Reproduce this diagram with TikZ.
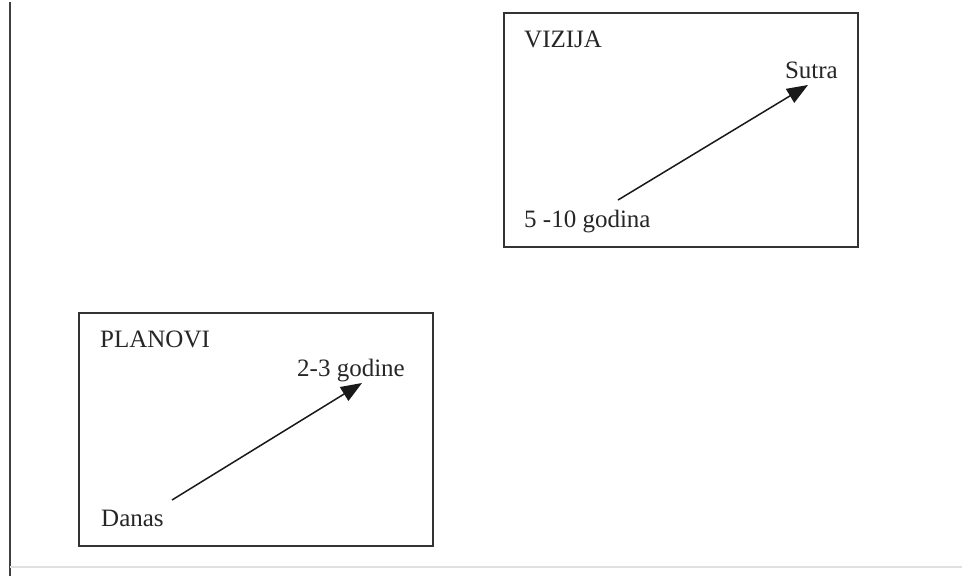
\documentclass[tikz,border=0pt]{standalone}
\usepackage{fontspec}
\setmainfont{Liberation Serif}
\usetikzlibrary{arrows.meta}
\begin{document}
\begin{tikzpicture}[x=1pt,y=-1pt,
  frame/.style={draw=black!80,line width=1.8pt},
  lbl/.style={inner sep=0pt,font=\fontsize{25}{28}\selectfont,text=black!85},
  arr/.style={draw=black!90,line width=1.5pt,-{Triangle[length=21pt,width=16pt]}}]
\useasboundingbox (0,0) rectangle (962,576);
\fill[white] (0,0) rectangle (962,576);
% outer lines
\coordinate (lt) at (9.5,2);
\coordinate (lb) at (9.5,576);
\coordinate (bl) at (10,567);
\coordinate (br) at (962,567);
\draw[black!75,line width=2pt] (lt) -- (lb);
\draw[black!12,line width=1.5pt] (bl) -- (br);
% VIZIJA box
\node[frame,minimum width=354pt,minimum height=234pt,inner sep=0pt,anchor=north west] (vbox) at (503,12) {};
\node[lbl,anchor=base west] (viz) at (524,47) {VIZIJA};
\node[lbl,anchor=base east] (sutra) at (838,78) {Sutra};
\node[lbl,anchor=base west] (five) at (524,227) {5 -10 godina};
\coordinate (vs) at (618,200);
\coordinate (ve) at (808,85);
\draw[arr] (vs) -- (ve);
% PLANOVI box
\node[frame,minimum width=354pt,minimum height=233pt,inner sep=0pt,anchor=north west] (pbox) at (78,312) {};
\node[lbl,anchor=base west] (plan) at (100,347) {PLANOVI};
\node[lbl,anchor=base east] (two) at (405,376) {2-3 godine};
\node[lbl,anchor=base west] (danas) at (101,526) {Danas};
\coordinate (ps) at (172,500);
\coordinate (pe) at (362,383);
\draw[arr] (ps) -- (pe);
\end{tikzpicture}
\end{document}
